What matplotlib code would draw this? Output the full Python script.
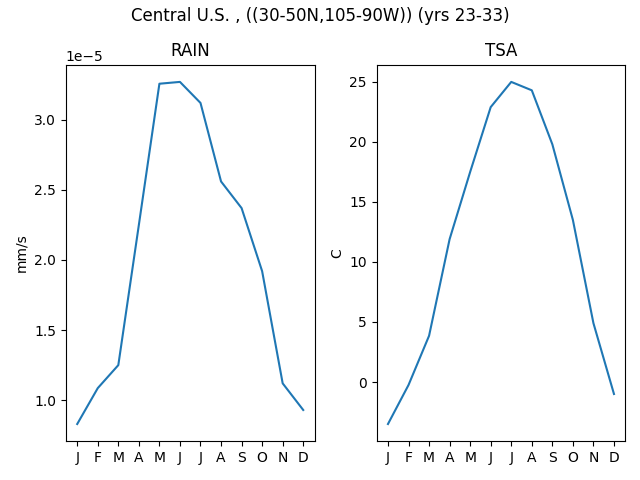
import matplotlib
matplotlib.use("Agg")
import matplotlib.pyplot as plt

months = ['J', 'F', 'M', 'A', 'M', 'J', 'J', 'A', 'S', 'O', 'N', 'D']
rain = [0.83e-5, 1.086e-5, 1.25e-5, 2.25e-5, 3.257e-5, 3.27e-5,
        3.12e-5, 2.56e-5, 2.37e-5, 1.92e-5, 1.12e-5, 0.93e-5]
tsa = [-3.5, -0.25, 3.85, 11.9, 17.5, 22.9, 25.0, 24.3, 19.8, 13.5, 4.9, -1.0]

fig, (ax1, ax2) = plt.subplots(1, 2, figsize=(6.4, 4.8))
x = range(len(months))

ax1.plot(x, rain)
ax1.set_title('RAIN')
ax1.set_ylabel('mm/s')
ax1.set_xticks(list(x))
ax1.set_xticklabels(months)

ax2.plot(x, tsa)
ax2.set_title('TSA')
ax2.set_ylabel('C')
ax2.set_xticks(list(x))
ax2.set_xticklabels(months)

fig.suptitle('Central U.S. , ((30-50N,105-90W)) (yrs 23-33)', y=0.985)
fig.subplots_adjust(left=0.103, right=0.977, top=0.865, bottom=0.081, wspace=0.25)
fig.savefig('out.png', dpi=100)
